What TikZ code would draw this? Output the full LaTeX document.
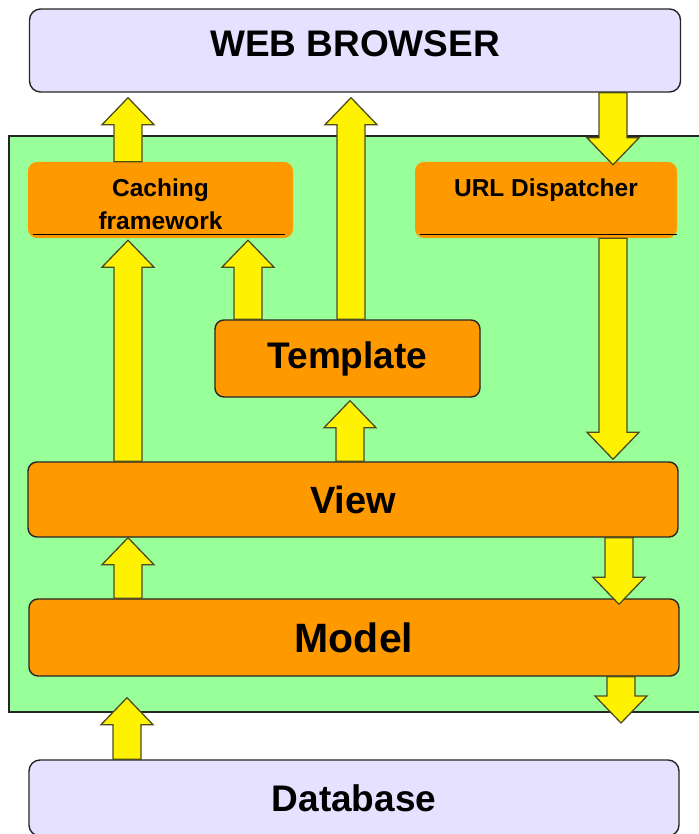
\documentclass[tikz,border=0pt]{standalone}
\usepackage{fontspec}
\setmainfont{Liberation Sans}
\usepackage{tikz}
\usetikzlibrary{calc}

\definecolor{appgreen}{HTML}{99FF99}
\definecolor{partorange}{HTML}{FF9900}
\definecolor{clientblue}{HTML}{E6E1FF}
\definecolor{flowedge}{HTML}{4D4D22}
\definecolor{boxedge}{HTML}{262626}

\begin{document}
\begin{tikzpicture}[x=1pt,y=-1pt,
  client/.style={rectangle,rounded corners=11pt,draw=boxedge,line width=1.4pt,fill=clientblue,inner sep=0pt,font=\fontsize{37}{40}\selectfont\bfseries},
  part/.style={rectangle,rounded corners=9pt,draw=boxedge,line width=1.4pt,fill=partorange,inner sep=0pt,font=\fontsize{38}{40}\selectfont\bfseries},
  flatpart/.style={rectangle,rounded corners=9pt,fill=partorange,inner sep=0pt,align=center,font=\fontsize{24.5}{33}\selectfont\bfseries},
  upblock/.style={draw=flowedge,fill=yellow,line width=1.3pt,
    to path={let \p1=(\tikztostart),\p2=(\tikztotarget) in
      (\x1-14pt,\y1) -- (\x1-14pt,\y2-27pt) -- (\x1-26pt,\y2-27pt) -- (\x1,\y2)
      -- (\x1+26pt,\y2-27pt) -- (\x1+14pt,\y2-27pt) -- (\x1+14pt,\y1) -- cycle}},
  downblock/.style={draw=flowedge,fill=yellow,line width=1.3pt,
    to path={let \p1=(\tikztostart),\p2=(\tikztotarget) in
      (\x1-14pt,\y1) -- (\x1-14pt,\y2+27pt) -- (\x1-26pt,\y2+27pt) -- (\x1,\y2)
      -- (\x1+26pt,\y2+27pt) -- (\x1+14pt,\y2+27pt) -- (\x1+14pt,\y1) -- cycle}}]
\useasboundingbox (0,0) rectangle (698,834);

% framework area
\node[rectangle,draw=boxedge,line width=1.4pt,fill=appgreen,minimum width=693pt,minimum height=576pt] (app) at (355.5,424) {};

\node[client,minimum width=651pt,minimum height=83pt,text depth=13.5pt] (browser) at (355,50.5) {WEB BROWSER};
\node[client,minimum width=650pt,minimum height=76pt] (database) at (354,798) {Database};

\node[flatpart,minimum width=265pt,minimum height=76pt,text height=60pt] (caching) at (160.5,200) {Caching\\framework};
\node[flatpart,minimum width=262pt,minimum height=76pt,text depth=24pt] (urls) at (546,200) {URL Dispatcher};
\draw[line width=1.4pt] ([xshift=5pt,yshift=4pt]caching.south west) -- ([xshift=-8pt,yshift=4pt]caching.south east);
\draw[line width=1.4pt] ([xshift=5pt,yshift=4pt]urls.south west) -- ([yshift=4pt]urls.south east);

\node[part,minimum width=265pt,minimum height=77pt,font=\fontsize{37}{40}\selectfont\bfseries] (template) at (347.5,358.5) {Template};
\node[part,minimum width=650pt,minimum height=75pt] (view) at (353,499.5) {View};
\node[part,minimum width=650pt,minimum height=77pt,font=\fontsize{41}{44}\selectfont\bfseries] (model) at (354,637.5) {Model};

\coordinate (out) at (621,723);

% request and response flow
\draw[upblock] ([xshift=-32.5pt]caching.north) to ([yshift=-5pt]browser.south);
\draw[upblock] ([xshift=3.5pt]template.north) to ([yshift=-5pt]browser.south);
\draw[downblock] ([xshift=258pt]browser.south) to ([yshift=-3pt]urls.north);
\draw[upblock] ([xshift=-225pt]view.north) to ([yshift=-2pt]caching.south);
\draw[upblock] ([xshift=-99.5pt]template.north) to ([yshift=-2pt]caching.south);
\draw[downblock] ([xshift=67pt]urls.south) to ([yshift=2pt]view.north);
\draw[upblock] ([xshift=-3pt]view.north) to ([yshift=-3pt]template.south);
\draw[upblock] ([xshift=-226pt]model.north) to (view.south);
\draw[downblock] ([xshift=266pt]view.south) to ([yshift=-6pt]model.north);
\draw[downblock] ([xshift=267pt]model.south) to (out);
\draw[upblock] ([xshift=-227pt]database.north) to ([yshift=15pt]app.south);
\end{tikzpicture}
\end{document}
